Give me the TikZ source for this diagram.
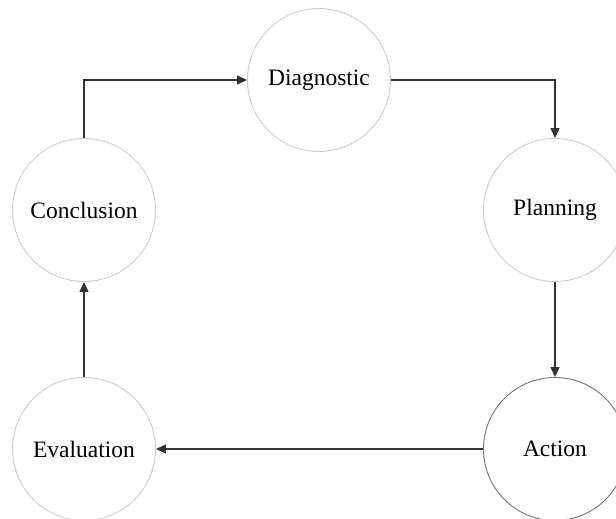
\documentclass[tikz,border=0pt]{standalone}
\usepackage{fontspec}
\setmainfont{Liberation Serif}
\usetikzlibrary{arrows.meta}
\begin{document}
\begin{tikzpicture}[x=1pt,y=-1pt,
  stage/.style={circle, draw=black!20, line width=0.9pt, minimum size=143pt,
    inner sep=0pt, font=\fontsize{23.5}{28}\selectfont},
  active/.style={stage, draw=black!55},
  flow/.style={draw=black!80, line width=1.2pt,
    -{Triangle[length=10pt,width=9pt]}}]
  \useasboundingbox (0,0) rectangle (616,519);
  \clip (0,0) rectangle (616,519);
  \node[stage]  (diag) at (319,80)  {Diagnostic};
  \node[stage]  (conc) at (84,210)  {Conclusion};
  \node[stage]  (plan) at (555,210) {Planning};
  \node[active] (act)  at (555,449) {Action};
  \node[stage]  (eval) at (84,449)  {Evaluation};
  \draw[flow] (conc.north) |- (diag.west);
  \draw[flow] (diag.east) -| (plan.north);
  \draw[flow] (plan.south) -- (act.north);
  \draw[flow] (act.west) -- (eval.east);
  \draw[flow] (eval.north) -- (conc.south);
\end{tikzpicture}
\end{document}
